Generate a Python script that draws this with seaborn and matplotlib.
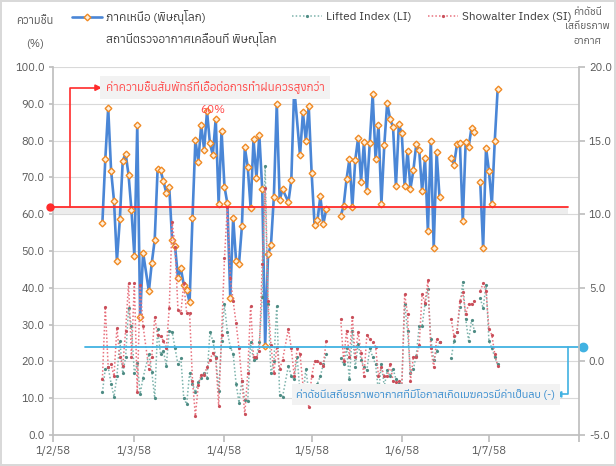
import numpy as np
import pandas as pd
import matplotlib
matplotlib.use("Agg")
import matplotlib.pyplot as plt
from matplotlib import font_manager
from matplotlib.ft2font import FT2Font
from matplotlib.lines import Line2D
import seaborn as sns

# ---------------------------
# Data (day number counted from 1 Feb 2015 = 1/2/58)
# ---------------------------
hum_days = [*range(17, 32), *range(33, 80), *range(81, 84), *range(85, 96),
            *range(99, 135), *range(137, 154)]
hum_rh = [57.7, 74.9, 88.9, 71.8, 63.6, 47.3, 58.6, 74.5, 76.5, 70.7, 61.1, 48.7, 84.2, 32.0, 49.6,
          39.1, 46.8, 53.0, 72.3, 71.9, 69.0, 65.8, 67.5, 52.9, 51.4,
          42.7, 45.3, 40.8, 39.4, 36.1, 59.1, 80.2, 74.3, 84.3, 77.6,
          88.0, 79.3, 76.1, 86.0, 62.8, 82.7, 67.5, 63.0, 37.2, 59.1,
          47.3, 46.5, 56.7, 78.2, 72.9, 61.8, 80.4, 69.8, 81.5, 66.8,
          24.3, 49.1, 51.6, 64.8, 90.1, 63.9, 66.8,
          63.3, 69.2, 94.5,
          76.0, 87.7, 80.0, 89.3, 71.1, 57.1, 58.4, 64.9, 57.3, 61.3, None,
          59.5, 62.3, 69.5, 75.0, 61.9, 74.7, 80.8, 68.9, 79.6, 66.3,
          79.5, 92.6, 75.0, 84.2, 62.8, 78.9, 90.3, 85.8, 83.8, 67.6,
          84.4, 82.0, 67.6, 77.3, 67.0, 71.9, 79.1, 77.4, 66.3, 75.2,
          55.4, 80.0, 50.9, 76.9, 64.6, None,
          75.4, 73.5, 79.0, 79.5, 58.1, 79.6, 78.2, 83.5, 82.3, None,
          68.9, 50.7, 78.1, 71.8, 62.7, 79.9, 94.0]

idx_days = [*range(17, 32), *range(33, 80), *range(81, 96), *range(99, 135), *range(137, 154)]
li_vals = [-2.1, -0.5, -0.4, -1.5, -2.4, -1.0, 1.4, -0.8, 0.3, 3.6, 2.4, -0.8, -0.1, -2.2, -1.1,
           0.5, -0.7, -2.5, 2.2, 0.5, 0.7, -0.3, 2.1, 2.0, 0.9,
           -0.2, 0.2, -2.5, -2.9, -0.8, -1.5, -2.1, -1.4, -1.1, -0.8,
           -1.1, 2.0, 1.4, 0.3, -2.0, 1.4, 3.9, 2.0, 1.0, 0.5,
           -1.5, -2.8, -1.3, -2.6, -2.7, 1.3, 0.1, 0.2, 1.3, 4.4,
           13.3, 3.9, -0.8, 0.0, 3.8, -2.3, -2.4,
           -0.3, -1.0, -1.2, 0.3, -2.1, -2.4, -0.5, -2.1, -2.6, -1.9, -1.5, -1.0, -0.2, 0.5, None,
           0.2, -0.2, 0.9, -1.2, 2.1, -0.4, 1.2, 0.1, -0.4, -0.6,
           0.9, 0.3, -0.2, -2.1, -0.2, -1.7, -0.6, -1.0, -0.5, -1.2,
           -1.5, -1.7, 3.9, 2.1, -0.8, -0.5, 0.4, 2.4, 2.4, 3.9,
           4.9, 1.5, 0.1, 0.7, 1.3, None,
           0.2, 1.4, 2.0, 3.7, 5.4, 2.9, 1.4, 2.8, 2.1, None,
           4.3, 3.6, 5.2, 1.4, 0.9, 0.3, -0.2]
si_vals = [-1.2, 3.7, -0.4, -0.2, -1.0, 2.3, 0.3, -0.3, 2.1, 5.3, 0.3, 5.3, -2.1, 5.2, 2.4,
           -0.5, 0.3, 3.0, 1.8, 1.7, 1.4, 0.9, 3.6, 9.5, 7.8,
           3.5, 3.3, 5.3, 3.3, 3.3, -1.3, -3.7, -1.6, -0.9, -0.9,
           -0.4, 0.1, 0.6, 0.2, -3.0, 1.8, 7.0, 10.5, 5.7, 4.1,
           2.6, 0.9, -1.3, -3.6, -0.8, 3.8, 0.3, 0.3, 0.7, 6.6,
           11.8, 4.1, 1.1, -0.8, 1.0, -0.5, 0.1,
           2.2, 0.9, -1.0, 0.9, 0.5, -1.6, -1.7, -3.1, -1.0, 0.0, 0.0, -0.1, -0.3, 1.4, None,
           2.9, 0.0, 2.1, 0.3, 3.0, 0.3, 2.0, 0.6, -1.0, 1.8,
           1.5, 1.3, 1.0, -1.0, -0.4, -1.0, -1.0, -0.2, -1.3, -1.4,
           -1.3, -1.9, 4.6, 3.2, -1.3, 0.3, 0.3, 1.1, 4.6, 4.0,
           5.5, 0.9, -0.4, 1.5, 1.3, None,
           2.9, 1.7, 2.0, 4.1, 4.7, 3.2, 3.9, 3.9, 4.1, None,
           4.8, 5.3, 4.8, 2.2, 1.8, 0.5, -0.3]

rh_limit = 62.0      # left axis (%)
index_limit = 1.0    # right axis

# ---------------------------
# Fonts (need a family with Thai glyphs)
# ---------------------------
def has_thai(path):
    try:
        return 0x0E01 in FT2Font(path).get_charmap()
    except Exception:
        return False

thai_fonts = sorted({f.name for f in font_manager.fontManager.ttflist if has_thai(f.fname)})

sns.set_theme(style="white")
plt.rcParams["font.family"] = thai_fonts[:1] + ["DejaVu Sans"]

BLUE = "#4A86D6"
ORANGE = "#F08A24"
LI_COLOR = "#7DB3AC"
LI_MARK = "#4E8C84"
SI_COLOR = "#E8727E"
SI_MARK = "#C94F5A"
RED = "#FF2B2B"
CYAN = "#41B2E2"
GREY = "#595959"
AXIS = "#BFBFBF"

start = pd.Timestamp("2015-02-01")


def to_frame(days, values):
    df = pd.DataFrame({"date": start + pd.to_timedelta(days, unit="D"),
                       "value": np.array(values, dtype=float)})
    df["seg"] = df["value"].isna().cumsum()
    return df.dropna()


hum = to_frame(hum_days, hum_rh)
li = to_frame(idx_days, li_vals)
si = to_frame(idx_days, si_vals)

# ---------------------------
# Figure
# ---------------------------
fig = plt.figure(figsize=(6.16, 4.66), dpi=100)
fig.patch.set_edgecolor("#D9D9D9")
fig.patch.set_linewidth(1.5)
ax = fig.add_axes([0.086, 0.0665, 0.854, 0.7895])
ax2 = ax.twinx()

ax.axhspan(rh_limit - 1.8, rh_limit, xmin=0, xmax=0.979, color="#EDEDED", lw=0)

mk = dict(marker="D", ms=3.4, mfc="#FFF0DC", mec=ORANGE, mew=1.0)
dot_li = dict(lw=1.1, linestyle=(0, (1, 1.4)), marker="o", ms=2.3, mfc=LI_MARK, mec=LI_MARK, mew=0)
dot_si = dict(lw=1.1, linestyle=(0, (1, 1.4)), marker="o", ms=2.3, mfc=SI_MARK, mec=SI_MARK, mew=0)

sns.lineplot(data=hum, x="date", y="value", units="seg", estimator=None, ax=ax,
             color=BLUE, lw=1.9, legend=False, **mk)
sns.lineplot(data=li, x="date", y="value", units="seg", estimator=None, ax=ax2,
             color=LI_COLOR, legend=False, **dot_li)
sns.lineplot(data=si, x="date", y="value", units="seg", estimator=None, ax=ax2,
             color=SI_COLOR, legend=False, **dot_si)

# axes limits / ticks
months = pd.date_range("2015-02-01", "2015-08-01", freq="MS")
ax.set_xlim(months[0], months[-1])
ax.set_xticks(months)
ax.set_xticklabels([f"{d.day}/{d.month}/{(d.year + 543) % 100}" for d in months[:-1]] + [""])
ax.set_ylim(0, 100)
ax.set_yticks(range(0, 101, 10))
ax.set_yticklabels([f"{v:.1f}" for v in range(0, 101, 10)])
ax2.set_ylim(-5, 20)
ax2.set_yticks(range(-5, 21, 5))
ax2.set_yticklabels([f"{v:.1f}" for v in range(-5, 21, 5)])
ax.set_xlabel("")
ax.set_ylabel("")
ax2.set_ylabel("")

ax.grid(axis="y", color="#D9D9D9", lw=0.8)
ax.grid(axis="x", visible=False)
for a in (ax, ax2):
    for s in a.spines.values():
        s.set_visible(False)
ax.spines["left"].set_visible(True)
ax.spines["bottom"].set_visible(True)
ax2.spines["right"].set_visible(True)
ax.spines["left"].set_color(AXIS)
ax.spines["bottom"].set_color(AXIS)
ax2.spines["right"].set_color(AXIS)

ax.tick_params(axis="x", bottom=True, length=5, color=AXIS, labelsize=8, labelcolor=GREY, pad=3)
ax.tick_params(axis="y", left=True, length=3, color=AXIS, labelsize=8, labelcolor=GREY, pad=3)
ax2.tick_params(axis="y", right=True, length=4, color=AXIS, labelsize=8, labelcolor=GREY, pad=3)

# ---------------------------
# Threshold lines and notes
# ---------------------------
yt = ax2.get_yaxis_transform()
si_lim = (rh_limit - 20) / 4
ax2.axhline(si_lim, xmin=0, xmax=0.979, color=RED, lw=1.3)
ax2.plot([-0.006], [si_lim], "o", color=RED, ms=5, transform=yt, clip_on=False)
ax2.annotate("", xy=(0.093, 18.6), xytext=(0.032, si_lim), xycoords=yt, textcoords=yt,
             arrowprops=dict(arrowstyle="-|>", color=RED, lw=1.2, mutation_scale=9,
                             shrinkA=0, shrinkB=0,
                             connectionstyle="angle,angleA=90,angleB=0,rad=0"))
ax2.text(0.308, 18.6, "ค่าความชื้นสัมพัทธ์ที่เอื้อต่อการทำฝนควรสูงกว่า", transform=yt,
         ha="center", va="center", color="#FF4B4B", style="italic", fontsize=8.3,
         bbox=dict(boxstyle="square,pad=0.45", fc="#F2F2F2", ec="none"))
ax2.text(0.304, 17.1, "60%", transform=yt, ha="center", va="center",
         color="#FF4B4B", fontsize=8.5)

ax2.axhline(index_limit, xmin=0.061, xmax=1.008, color=CYAN, lw=1.3, clip_on=False)
ax2.plot([1.008], [index_limit], "o", color=CYAN, ms=6, transform=yt, clip_on=False)
ax2.annotate("", xy=(0.954, -2.24), xytext=(0.979, index_limit), xycoords=yt, textcoords=yt,
             arrowprops=dict(arrowstyle="-|>", color=CYAN, lw=1.2, mutation_scale=9,
                             shrinkA=0, shrinkB=0,
                             connectionstyle="angle,angleA=90,angleB=0,rad=0"))
ax2.text(0.709, -2.24, "ค่าดัชนีเสถียรภาพอากาศที่มีโอกาสเกิดเมฆควรมีค่าเป็นลบ (-)", transform=yt,
         ha="center", va="center", color="#3A8ED0", style="italic", fontsize=7.8,
         bbox=dict(boxstyle="square,pad=0.45", fc="#F2F2F2", ec="none"))

# ---------------------------
# Legend and axis titles
# ---------------------------
h_rh = Line2D([], [], color=BLUE, lw=1.9, **mk)
h_li = Line2D([], [], color=LI_COLOR, **dot_li)
h_si = Line2D([], [], color=SI_COLOR, **dot_si)
leg_y = 1 - 17 / 466
for h, lab, x0 in [(h_rh, "ภาคเหนือ (พิษณุโลก)", 72), (h_li, "Lifted Index (LI)", 292),
                   (h_si, "Showalter Index (SI)", 428)]:
    fig.legend([h], [lab], loc="center left", bbox_to_anchor=(x0 / 616, leg_y),
               frameon=False, fontsize=8.5, handlelength=2.5, handletextpad=0.4,
               borderpad=0, borderaxespad=0, labelcolor="#404040")
fig.text(106 / 616, 1 - 39 / 466, "สถานีตรวจอากาศเคลื่อนที่ พิษณุโลก", ha="left", va="center",
         fontsize=8.5, color="#404040")

fig.text(35 / 616, 1 - 21 / 466, "ความชื้น", ha="center", va="center", fontsize=8, color=GREY)
fig.text(35 / 616, 1 - 44 / 466, "(%)", ha="center", va="center", fontsize=8, color=GREY)
fig.text(587 / 616, 1 - 8 / 466, "ค่าดัชนี\nเสถียรภาพ\nอากาศ", ha="center", va="top",
         fontsize=7.3, color=GREY, linespacing=1.75)

fig.savefig("out.png", dpi=100)
